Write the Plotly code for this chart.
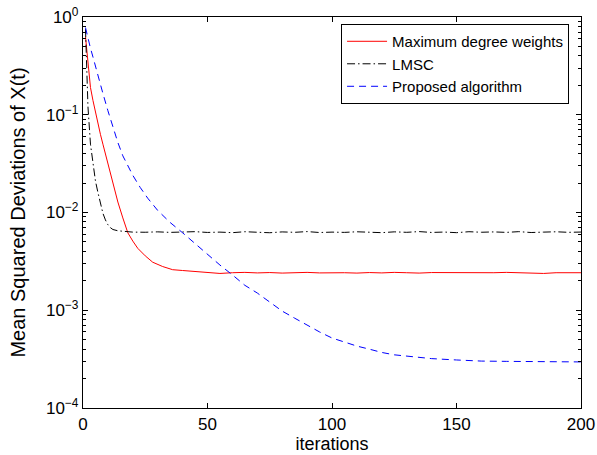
import plotly.graph_objects as go

# ---- data ----
iter_red = [1, 2, 3, 4, 5, 6, 7, 8, 9, 10, 11, 12, 14, 16, 18, 20, 22, 25, 28, 32, 36, 40, 45,
            50, 55, 60, 65, 70, 75, 80, 85, 90, 95, 100, 105, 110, 115, 120, 125, 130, 135, 140,
            145, 150, 155, 160, 165, 170, 175, 180, 185, 190, 195, 200]
msd_red = [0.63, 0.33, 0.19, 0.14, 0.105, 0.08, 0.063, 0.05, 0.04, 0.032, 0.025, 0.020, 0.0128,
           0.0088, 0.0062, 0.0051, 0.0043, 0.0036, 0.0031, 0.0028, 0.0026, 0.00255, 0.00248,
           0.00243, 0.00238, 0.00242, 0.00244, 0.00241, 0.00243, 0.00240, 0.00242, 0.00244,
           0.00241, 0.00243, 0.00242, 0.00240, 0.00243, 0.00241, 0.00244, 0.00242, 0.00240,
           0.00243, 0.00242, 0.00244, 0.00241, 0.00243, 0.00242, 0.00244, 0.00243, 0.00241,
           0.00238, 0.00242, 0.00241, 0.00242]

iter_lmsc = [1, 2, 3, 4, 5, 6, 7, 8, 9, 10, 11, 12, 14, 17, 20, 25, 30, 35, 40, 45, 50, 55, 60,
             65, 70, 75, 80, 85, 90, 95, 100, 105, 110, 115, 120, 125, 130, 135, 140, 145, 150,
             155, 160, 165, 170, 175, 180, 185, 190, 195, 200]
msd_lmsc = [0.75, 0.12, 0.05, 0.03, 0.021, 0.016, 0.012, 0.0098, 0.0084, 0.0075, 0.0070, 0.0067,
            0.0065, 0.0064, 0.0063, 0.00628, 0.00634, 0.00626, 0.00631, 0.00637, 0.00625,
            0.00630, 0.00622, 0.00636, 0.00628, 0.00621, 0.00633, 0.00627, 0.00638, 0.00624,
            0.00630, 0.00626, 0.00635, 0.00629, 0.00622, 0.00634, 0.00627, 0.00638, 0.00625,
            0.00631, 0.00622, 0.00636, 0.00628, 0.00633, 0.00626, 0.00637, 0.00624, 0.00630,
            0.00635, 0.00627, 0.00631]

iter_prop = [1, 2, 3, 4, 5, 6, 7, 8, 10, 12, 14, 16, 18, 20, 23, 26, 30, 35, 40, 45, 50, 55, 60,
             65, 70, 75, 80, 85, 90, 95, 100, 105, 110, 115, 120, 125, 130, 140, 150, 160, 170,
             180, 190, 200]
msd_prop = [0.78, 0.6, 0.48, 0.39, 0.31, 0.25, 0.2, 0.165, 0.11, 0.075, 0.052, 0.038, 0.03,
            0.024, 0.018, 0.014, 0.0105, 0.0079, 0.0062, 0.0048, 0.0037, 0.0029, 0.0023, 0.0018,
            0.0015, 0.0012, 0.00098, 0.00083, 0.0007, 0.0006, 0.00052, 0.00047, 0.00043, 0.0004,
            0.00037, 0.00035, 0.00034, 0.00032, 0.00031, 0.000302, 0.0003, 0.000298, 0.000297,
            0.000296]

y_tickvals = [1e-4, 1e-3, 1e-2, 1e-1, 1e0]
y_ticktext = ["10<sup>−4</sup>", "10<sup>−3</sup>", "10<sup>−2</sup>", "10<sup>−1</sup>", "10<sup>0</sup>"]
y_minor = [m * 10.0 ** e for e in range(-4, 0) for m in range(2, 10)]
x_tickvals = [0, 50, 100, 150, 200]

FONT = "Liberation Sans, Arial, Helvetica, sans-serif"

fig = go.Figure()
fig.add_trace(go.Scatter(x=iter_red, y=msd_red, mode="lines", name="Maximum degree weights",
                         line=dict(color="#ff0000", width=1)))
fig.add_trace(go.Scatter(x=iter_lmsc, y=msd_lmsc, mode="lines", name="LMSC",
                         line=dict(color="#000000", width=1, dash="8px,3px,1.5px,3px")))
fig.add_trace(go.Scatter(x=iter_prop, y=msd_prop, mode="lines", name="Proposed algorithm",
                         line=dict(color="#0000ff", width=1, dash="7px,5px")))

fig.update_layout(
    width=597, height=455,
    margin=dict(l=83, r=16, t=17, b=47, autoexpand=False),
    paper_bgcolor="white", plot_bgcolor="white",
    font=dict(family=FONT, color="black", size=17),
    showlegend=True,
    legend=dict(x=0.976, y=0.982, xanchor="right", yanchor="top",
                bgcolor="white", bordercolor="black", borderwidth=1,
                font=dict(size=15, family=FONT), tracegroupgap=0,
                itemwidth=40),
    xaxis=dict(range=[0, 200], tickvals=x_tickvals, ticks="inside", ticklen=5,
               tickcolor="black", tickwidth=1,
               showline=True, linecolor="black", linewidth=1.3, mirror="allticks",
               showgrid=False, zeroline=False, automargin=False,
               title=dict(text="iterations", font=dict(size=18), standoff=2),
               tickfont=dict(size=17)),
    yaxis=dict(type="log", range=[-4, 0], tickvals=y_tickvals, ticktext=y_ticktext,
               ticks="inside", ticklen=5, tickcolor="black", tickwidth=1,
               minor=dict(tickvals=y_minor, ticks="inside", ticklen=3, tickcolor="black",
                          tickwidth=1),
               showline=True, linecolor="black", linewidth=1.3, mirror="allticks",
               showgrid=False, zeroline=False, automargin=False,
               title=dict(text="Mean Squared Deviations of X(t)", font=dict(size=20), standoff=14),
               tickfont=dict(size=17)),
)

fig.write_html("out.html",
               config={"displayModeBar": False},
               post_script="document.body.style.margin='0px';document.body.style.overflow='hidden';")
